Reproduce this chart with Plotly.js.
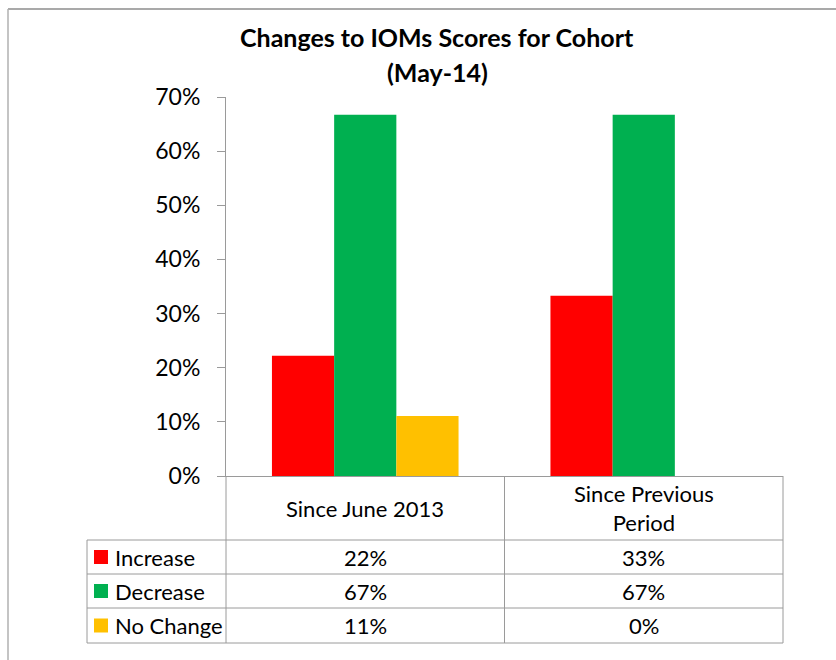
<!DOCTYPE html>
<html>
<head>
<meta charset="utf-8">
<script src="https://cdn.plot.ly/plotly-3.0.1.min.js"></script>
<style>
  html, body { margin: 0; padding: 0; background: #fff; }
  #chart { width: 836px; height: 660px; }
</style>
</head>
<body>
<div id="chart"></div>
<script>
// ---- data ----
const categories = ["Since June 2013", "Since Previous<br>Period"];
const seriesNames = ["Increase", "Decrease", "No Change"];
const increase = [0.222, 0.333];
const decrease = [0.667, 0.667];
const noChange = [0.111, 0.0];
const tickVals = [0, 0.1, 0.2, 0.3, 0.4, 0.5, 0.6, 0.7];
const titleLines = ["Changes to IOMs Scores for Cohort", "(May-14)"];

const seriesValues = [increase, decrease, noChange];
const colors = ["#ff0000", "#00b050", "#ffc000"];

// ---- geometry helpers (pixel -> paper) ----
const W = 836, H = 660;
const L = 226, R = 783, T = 97, B = 476;
const px = x => (x - L) / (R - L);
const py = y => (B - y) / (B - T);
const FONT = "Lato, 'Liberation Sans', sans-serif";
const gridColor = "#9a9a9a";

const traces = seriesNames.map((name, i) => ({
  type: "bar",
  name: name,
  x: categories,
  y: seriesValues[i],
  marker: { color: colors[i], line: { width: 0 } },
  hoverinfo: "skip"
}));

const shapes = [];
const annotations = [];
function line(x0, y0, x1, y1, color, w) {
  shapes.push({ type: "line", xref: "paper", yref: "paper",
    x0: px(x0), y0: py(y0), x1: px(x1), y1: py(y1),
    line: { color: color || gridColor, width: w || 1 } });
}
function text(x, y, t, anchor, size, bold) {
  annotations.push({ xref: "paper", yref: "paper", x: px(x), y: py(y),
    text: bold ? "<b>" + t + "</b>" : t, showarrow: false,
    xanchor: anchor || "center", yanchor: "middle",
    font: { family: FONT, size: size || 20, color: "#000" } });
}

// title (two lines)
text(437, 37, titleLines[0], "center", 25, true);
text(437, 72, titleLines[1], "center", 25, true);

// outer chart frame (top and left)
line(8, 9, 836, 9, "#8c8c8c", 1.5);
line(8, 9, 8, 660, "#b0b0b0", 1.5);

// data table grid
const rowY = [476, 540, 574, 608, 643];
line(226, 476, 226, 643);
line(504.5, 476, 504.5, 643);
line(783, 476, 783, 643);
line(87, 540, 87, 643);
for (let r = 1; r < rowY.length; r++) line(87, rowY[r], 783, rowY[r]);

// header row
const colCenters = [(226 + 504.5) / 2, (504.5 + 783) / 2];
categories.forEach((c, j) => text(colCenters[j], 508, c, "center", 22));

// series rows
seriesNames.forEach((name, i) => {
  const yc = (rowY[i + 1] + rowY[i + 2]) / 2;
  shapes.push({ type: "rect", xref: "paper", yref: "paper",
    x0: px(94), x1: px(108), y0: py(yc - 7), y1: py(yc + 7),
    fillcolor: colors[i], line: { width: 0 } });
  text(113, yc, name, "left", 22);
  seriesValues[i].forEach((v, j) => text(colCenters[j], yc, Math.round(v * 100) + "%", "center", 22));
});

const layout = {
  width: W, height: H,
  margin: { l: L, r: W - R, t: T, b: H - B, pad: 0 },
  paper_bgcolor: "#fff", plot_bgcolor: "#fff",
  showlegend: false,
  barmode: "group",
  bargap: 0.33,
  bargroupgap: 0,
  xaxis: {
    showticklabels: false, ticks: "", showgrid: false, zeroline: false,
    showline: true, linecolor: gridColor, linewidth: 1, fixedrange: true
  },
  yaxis: {
    range: [0, 0.7], tickvals: tickVals, tickformat: ".0%",
    ticks: "outside", ticklen: 8, tickcolor: gridColor, tickwidth: 1,
    showline: true, linecolor: gridColor, linewidth: 1,
    showgrid: false, zeroline: false, ticklabelstandoff: 12,
    tickfont: { family: FONT, size: 23, color: "#000" }, fixedrange: true
  },
  shapes: shapes,
  annotations: annotations
};

Plotly.newPlot("chart", traces, layout, { staticPlot: true, displayModeBar: false });
</script>
</body>
</html>
